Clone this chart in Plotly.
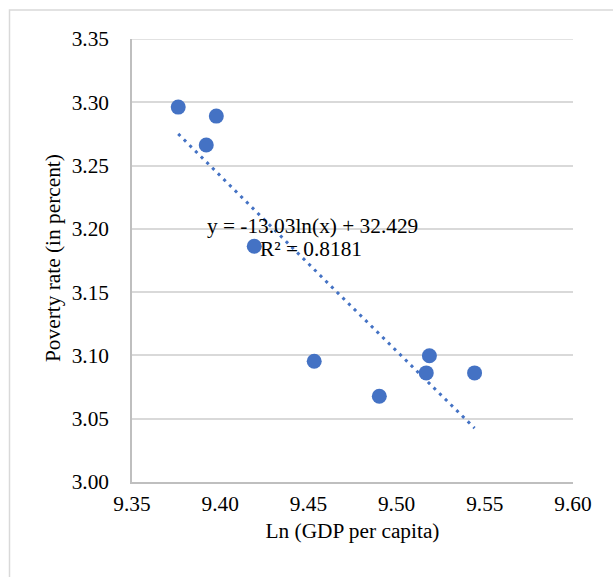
import numpy as np
import plotly.graph_objects as go

# Ln(GDP per capita) vs poverty rate
ln_gdp = [9.3762, 9.3978, 9.3921, 9.4193, 9.4533, 9.4902, 9.5186, 9.5168, 9.5442]
poverty = [3.2962, 3.2891, 3.2662, 3.1863, 3.0954, 3.0678, 3.0997, 3.0862, 3.0862]

x_ticks = [9.35, 9.40, 9.45, 9.50, 9.55, 9.60]
y_ticks = [3.00, 3.05, 3.10, 3.15, 3.20, 3.25, 3.30, 3.35]

eq_line = "y = -13.03ln(x) + 32.429"
r2_line = "R² = 0.8181"

# logarithmic trendline fitted on ln(x)
xs = np.array(ln_gdp)
ys = np.array(poverty)
slope, intercept = np.polyfit(np.log(xs), ys, 1)
tx = np.linspace(xs.min(), xs.max(), 100)
ty = slope * np.log(tx) + intercept

BLUE = "#4472C4"
FONT = "Liberation Serif"
FS = 21.33

W, H = 613, 577
L, R, T, B = 132, 40, 39, 95
pw, ph = W - L - R, H - T - B

fig = go.Figure()
fig.add_trace(go.Scatter(
    x=tx, y=ty, mode="lines",
    line=dict(color=BLUE, width=3, dash="3px,5px"),
    hoverinfo="skip", showlegend=False,
))
fig.add_trace(go.Scatter(
    x=ln_gdp, y=poverty, mode="markers",
    marker=dict(color=BLUE, size=15, line=dict(width=0)),
    showlegend=False,
))

# trendline equation and R squared
fig.add_annotation(
    x=9.4522, y=3.2022, xref="x", yref="y", xanchor="center", yanchor="middle",
    text=eq_line, showarrow=False,
    font=dict(family=FONT, size=FS, color="#000000"),
)
fig.add_annotation(
    x=9.4516, y=3.1840, xref="x", yref="y", xanchor="center", yanchor="middle",
    text=r2_line, showarrow=False,
    font=dict(family=FONT, size=FS, color="#000000"),
)

# axis title for the y axis, placed as rotated text
fig.add_annotation(
    x=(53 - L) / pw, y=1 - (258 - T) / ph, xref="paper", yref="paper",
    xanchor="center", yanchor="middle",
    text="Poverty rate (in percent)", textangle=-90, showarrow=False,
    font=dict(family=FONT, size=FS, color="#000000"),
)

# top gridline at the upper end of the value axis
fig.add_shape(
    type="line", xref="paper", yref="y", x0=0, x1=1, y0=3.35, y1=3.35,
    line=dict(color="#D9D9D9", width=1.5), layer="below",
)

# outer chart frame
fig.add_shape(
    type="rect", xref="paper", yref="paper",
    x0=(9.5 - L) / pw, x1=(W + 5 - L) / pw,
    y0=1 + (T - (H + 5)) / ph, y1=1 + (T - 10) / ph,
    line=dict(color="#D9D9D9", width=1.5), fillcolor="rgba(0,0,0,0)",
    layer="below",
)

fig.update_layout(
    width=W, height=H,
    margin=dict(l=L, r=R, t=T, b=B),
    paper_bgcolor="white", plot_bgcolor="white",
    font=dict(family=FONT, size=FS, color="#000000"),
    xaxis=dict(
        range=[9.35, 9.60], tickvals=x_ticks,
        ticktext=[f"{v:.2f}" for v in x_ticks],
        showgrid=False, zeroline=False,
        showline=True, linecolor="#BFBFBF", linewidth=1.5,
        ticks="outside", ticklen=2, tickcolor="rgba(0,0,0,0)",
        title=dict(text="Ln (GDP per capita)", font=dict(family=FONT, size=FS), standoff=8),
        tickfont=dict(family=FONT, size=FS),
    ),
    yaxis=dict(
        range=[3.00, 3.35], tickvals=y_ticks,
        ticktext=[f"{v:.2f}" for v in y_ticks],
        showgrid=True, gridcolor="#D9D9D9", gridwidth=1.5,
        zeroline=False, showline=True, linecolor="#BFBFBF", linewidth=1.5,
        ticks="outside", ticklen=17, tickcolor="rgba(0,0,0,0)",
        tickfont=dict(family=FONT, size=FS),
    ),
)

fig.write_html("out.html")
